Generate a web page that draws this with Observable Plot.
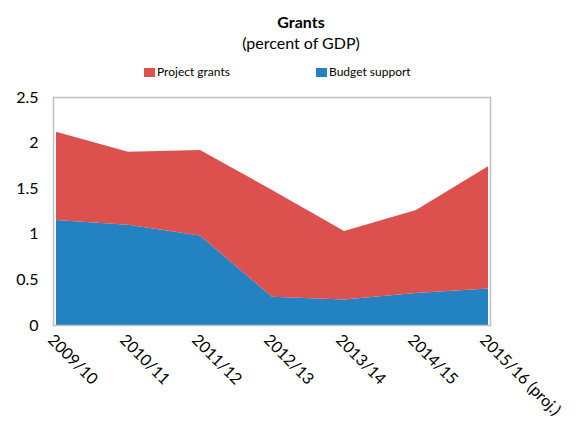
<!DOCTYPE html>
<html>
<head>
<meta charset="utf-8">
<script src="https://cdn.jsdelivr.net/npm/d3@7"></script>
<script src="https://cdn.jsdelivr.net/npm/@observablehq/plot@0.6"></script>
<style>
  html, body { margin: 0; padding: 0; background: #fff; }
  body { width: 576px; height: 428px; overflow: hidden; font-family: Lato, "Open Sans", sans-serif; color: #000; }
  #header { position: relative; width: 576px; height: 85px; }
  .t { position: absolute; left: 26px; width: 550px; text-align: center; line-height: 16px; font-size: 16px; }
  #title { top: 14px; font-weight: bold; }
  #subtitle { top: 35px; }
  .leg { position: absolute; top: 66px; font-size: 12px; line-height: 12px; display: flex; align-items: center; }
  .sw { width: 11px; height: 9px; margin-right: 2px; }
</style>
</head>
<body>
<div id="header">
  <div class="t" id="title">Grants</div>
  <div class="t" id="subtitle">(percent of GDP)</div>
  <div class="leg" style="left:144px"><span class="sw" style="background:#dc504e"></span>Project grants</div>
  <div class="leg" style="left:316px"><span class="sw" style="background:#2382c2"></span>Budget support</div>
</div>
<div id="chart"></div>
<script>
const years = ["2009/10", "2010/11", "2011/12", "2012/13", "2013/14", "2014/15", "2015/16 (proj.)"];
const budgetSupport = [1.15, 1.10, 0.98, 0.31, 0.28, 0.35, 0.40];
const projectGrants = [0.97, 0.80, 0.94, 1.17, 0.75, 0.91, 1.34];
const seriesNames = ["Budget support", "Project grants"];
const seriesColors = ["#2382c2", "#dc504e"];
const yTicks = [0, 0.5, 1, 1.5, 2, 2.5];

const rows = [];
years.forEach((y, i) => {
  rows.push({year: y, series: "Budget support", value: budgetSupport[i]});
  rows.push({year: y, series: "Project grants", value: projectGrants[i]});
});

const chart = Plot.plot({
  width: 576,
  height: 343,
  marginTop: 12,
  marginBottom: 103,
  marginLeft: 53,
  marginRight: 86,
  style: {fontFamily: "Lato, 'Open Sans', sans-serif", fontSize: "16px", color: "#000", background: "#fff"},
  x: {type: "point", domain: years, padding: 0, label: null},
  y: {domain: [0, 2.5], label: null},
  color: {domain: seriesNames, range: seriesColors},
  marks: [
    Plot.areaY(rows, {x: "year", y: "value", fill: "series", order: seriesNames, z: "series"}),
    Plot.frame({stroke: "#c0c0c0", strokeWidth: 1.5}),
    Plot.axisY({ticks: yTicks, tickFormat: d => String(d), tickSize: 0, tickPadding: 15, fontSize: 16, label: null}),
    Plot.axisX({tickSize: 0, tickRotate: 45, textAnchor: "start", tickPadding: 12, dx: -6, fontSize: 16, label: null})
  ]
});
document.getElementById("chart").appendChild(chart);
</script>
</body>
</html>
